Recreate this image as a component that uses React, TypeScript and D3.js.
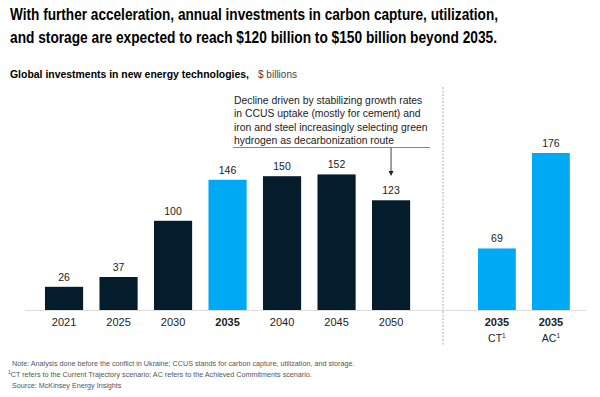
import React from 'react';
import * as d3 from 'd3';

const years = ['2021', '2025', '2030', '2035', '2040', '2045', '2050'];
const values = [26, 37, 100, 146, 150, 152, 123];
const highlight = ['2035'];

const scenarios = ['CT', 'AC'];
const scenarioValues = [69, 176];

const titleLines = [
  'With further acceleration, annual investments in carbon capture, utilization,',
  'and storage are expected to reach $120 billion to $150 billion beyond 2035.',
];
const noteLines = [
  'Decline driven by stabilizing growth rates',
  'in CCUS uptake (mostly for cement) and',
  'iron and steel increasingly selecting green',
  'hydrogen as decarbonization route',
];
const footnotes = [
  'Note: Analysis done before the conflict in Ukraine; CCUS stands for carbon capture, utilization, and storage.',
  'CT refers to the Current Trajectory scenario; AC refers to the Achieved Commitments scenario.',
  'Source: McKinsey Energy Insights',
];

const W = 600;
const H = 397;
const NAVY = '#051c2c';
const BLUE = '#00a9f4';
const FONT = '"Liberation Sans", Arial, sans-serif';

export default function App() {
  const baseY = 310;
  const y = d3.scaleLinear().domain([0, 176]).range([baseY, 153]);

  const x = d3.scaleBand<string>().domain(years).range([36.8, 418.3]).paddingInner(0.3).paddingOuter(0.15);
  const x2 = d3.scaleBand<string>().domain(scenarios).range([469.9, 577.9]).paddingInner(0.3).paddingOuter(0.15);

  const arrowX = (x('2050') ?? 0) + x.bandwidth() / 2;

  return (
    <svg width={W} height={H} style={{ position: 'absolute', left: 0, top: 0, background: '#fff' }} fontFamily={FONT}>
      {/* title */}
      {titleLines.map((t, i) => (
        <text key={i} x={10} y={20 + i * 23} fontSize={16} fontWeight={700} fill="#000"
          textLength={i === 0 ? 488 : 487} lengthAdjust="spacingAndGlyphs">
          {t}
        </text>
      ))}
      <text x={10} y={78} fontSize={11} fontWeight={700} fill="#000" textLength={239} lengthAdjust="spacingAndGlyphs">
        {'Global investments in new energy technologies,'}
      </text>
      <text x={258} y={78} fontSize={11} fill="#444" textLength={39} lengthAdjust="spacingAndGlyphs">
        {'$ billions'}
      </text>

      {/* baseline */}
      <line x1={25} x2={586} y1={baseY + 0.5} y2={baseY + 0.5} stroke="#ddd" strokeWidth={1} />

      {/* separator */}
      <line x1={443} x2={443} y1={87} y2={346} stroke="#aaa" strokeWidth={1} strokeDasharray="2,1.5" />

      {/* main bars */}
      {years.map((yr, i) => {
        const bx = x(yr) ?? 0;
        const top = y(values[i]);
        const hl = highlight.includes(yr);
        return (
          <g key={yr}>
            <rect x={bx} y={top} width={x.bandwidth()} height={baseY - top} fill={hl ? BLUE : NAVY} />
            <text x={bx + x.bandwidth() / 2} y={top - 6} textAnchor="middle" fontSize={10.5} fill="#222">
              {values[i]}
            </text>
            <text x={bx + x.bandwidth() / 2} y={326} textAnchor="middle" fontSize={11} fontWeight={hl ? 700 : 400} fill="#222">
              {yr}
            </text>
          </g>
        );
      })}

      {/* scenario bars */}
      {scenarios.map((s, i) => {
        const bx = x2(s) ?? 0;
        const top = y(scenarioValues[i]);
        const cx = bx + x2.bandwidth() / 2;
        return (
          <g key={s}>
            <rect x={bx} y={top} width={x2.bandwidth()} height={baseY - top} fill={BLUE} />
            <text x={cx} y={top - 6} textAnchor="middle" fontSize={10.5} fill="#222">
              {scenarioValues[i]}
            </text>
            <text x={cx} y={326} textAnchor="middle" fontSize={11} fontWeight={700} fill="#222">
              2035
            </text>
            <text x={cx} y={342} textAnchor="middle" fontSize={10.5} fill="#222">
              {s}
              <tspan fontSize={6.5} dy={-4}>1</tspan>
            </text>
          </g>
        );
      })}

      {/* annotation */}
      {noteLines.map((t, i) => (
        <text key={i} x={234} y={104 + i * 13.3} fontSize={10.4} fill="#222">
          {t}
        </text>
      ))}
      <line x1={233} x2={430} y1={147.5} y2={147.5} stroke="#888" strokeWidth={1} />
      <line x1={arrowX} x2={arrowX} y1={147.5} y2={173} stroke="#444" strokeWidth={1} />
      <path d={`M${arrowX - 2.5},${171} L${arrowX + 2.5},${171} L${arrowX},${176} Z`} fill="#222" />

      {/* footnotes */}
      <text x={12} y={366} fontSize={7.2} fill="#555">{footnotes[0]}</text>
      <text x={8} y={377} fontSize={7.2} fill="#555">
        <tspan fontSize={5} dy={-3}>1</tspan>
        <tspan dy={3}>{footnotes[1]}</tspan>
      </text>
      <text x={12} y={388} fontSize={7.2} fill="#555">{footnotes[2]}</text>
    </svg>
  );
}
